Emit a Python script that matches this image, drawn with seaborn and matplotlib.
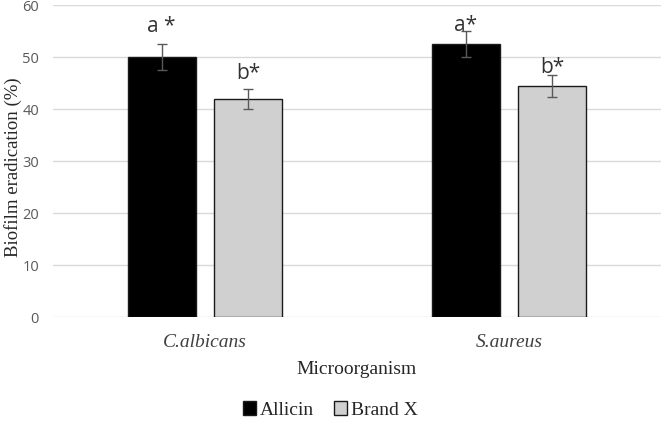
import pandas as pd
import seaborn as sns
import matplotlib.pyplot as plt

# values
organisms = ['C.albicans', 'S.aureus']
treatments = ['Allicin', 'Brand X']
allicin_mean = [50.0, 52.5]
brandx_mean = [42.0, 44.5]
allicin_sd = [2.5, 2.5]
brandx_sd = [2.0, 2.2]
# significance letters above the bars (per organism, per treatment)
allicin_marks = ['a *', 'a*']
brandx_marks = ['b*', 'b*']
allicin_mark_y = [54.9, 55.1]
brandx_mark_y = [45.8, 47.0]

df = pd.DataFrame({
    'organism': organisms * 2,
    'treatment': [treatments[0]] * 2 + [treatments[1]] * 2,
    'value': allicin_mean + brandx_mean,
    'sd': allicin_sd + brandx_sd,
    'mark': allicin_marks + brandx_marks,
    'mark_y': allicin_mark_y + brandx_mark_y,
})

sns.set_style('white')
fig = plt.figure(figsize=(6.61, 4.25), dpi=100)
ax = fig.add_axes([53 / 661, 0.2534, 1 - 53 / 661, 0.734])

sns.barplot(
    data=df, x='organism', y='value', hue='treatment',
    order=organisms, hue_order=treatments,
    palette={'Allicin': '#000000', 'Brand X': '#d0d0d0'},
    width=0.57, gap=0.214, errorbar=None,
    edgecolor='#1a1a1a', linewidth=1.0, ax=ax,
)

# error bars and letters, placed on the patches seaborn drew
bars = ax.patches[:len(df)]
for bar, (_, row) in zip(bars, df.iterrows()):
    cx = bar.get_x() + bar.get_width() / 2
    ax.errorbar(cx, row['value'], yerr=row['sd'], fmt='none',
                ecolor='#595959', elinewidth=1.0, capsize=3.5, capthick=1.0, zorder=5)
    ax.text(cx, row['mark_y'], row['mark'], ha='center', va='baseline',
            fontsize=15, color='#333333', family='Open Sans')

ax.set_ylim(0, 60)
ax.set_xlim(-0.5, 1.5)
ax.set_yticks(range(0, 61, 10))
ax.yaxis.grid(True, color='#d9d9d9', linewidth=1.0)
ax.set_axisbelow(True)
for s in ax.spines.values():
    s.set_visible(False)
ax.tick_params(axis='both', length=0)
ax.tick_params(axis='y', pad=10, labelsize=10.5, labelcolor='#595959')
for lbl in ax.get_yticklabels():
    lbl.set_family('Open Sans')
ax.tick_params(axis='x', pad=12)
for lbl in ax.get_xticklabels():
    lbl.set_family('Liberation Serif')
    lbl.set_fontstyle('italic')
    lbl.set_fontsize(14)
    lbl.set_color('#404040')

ax.set_xlabel('Microorganism', family='Liberation Serif', fontsize=14,
              color='#262626', labelpad=7)
ax.set_ylabel('Biofilm eradication (%)', family='Liberation Serif', fontsize=13.5,
              color='#262626', va='center')
ax.yaxis.set_label_coords(-0.065, 0.48)

handles, labels = ax.get_legend_handles_labels()
ax.get_legend().remove()
fig.legend(handles, labels, loc='center', bbox_to_anchor=(0.5, 0.035), ncol=2,
           frameon=False, handlelength=0.7, handleheight=0.7, handletextpad=0.2,
           columnspacing=1.0, prop={'family': 'Liberation Serif', 'size': 14})

fig.savefig('out.png', dpi=100)
